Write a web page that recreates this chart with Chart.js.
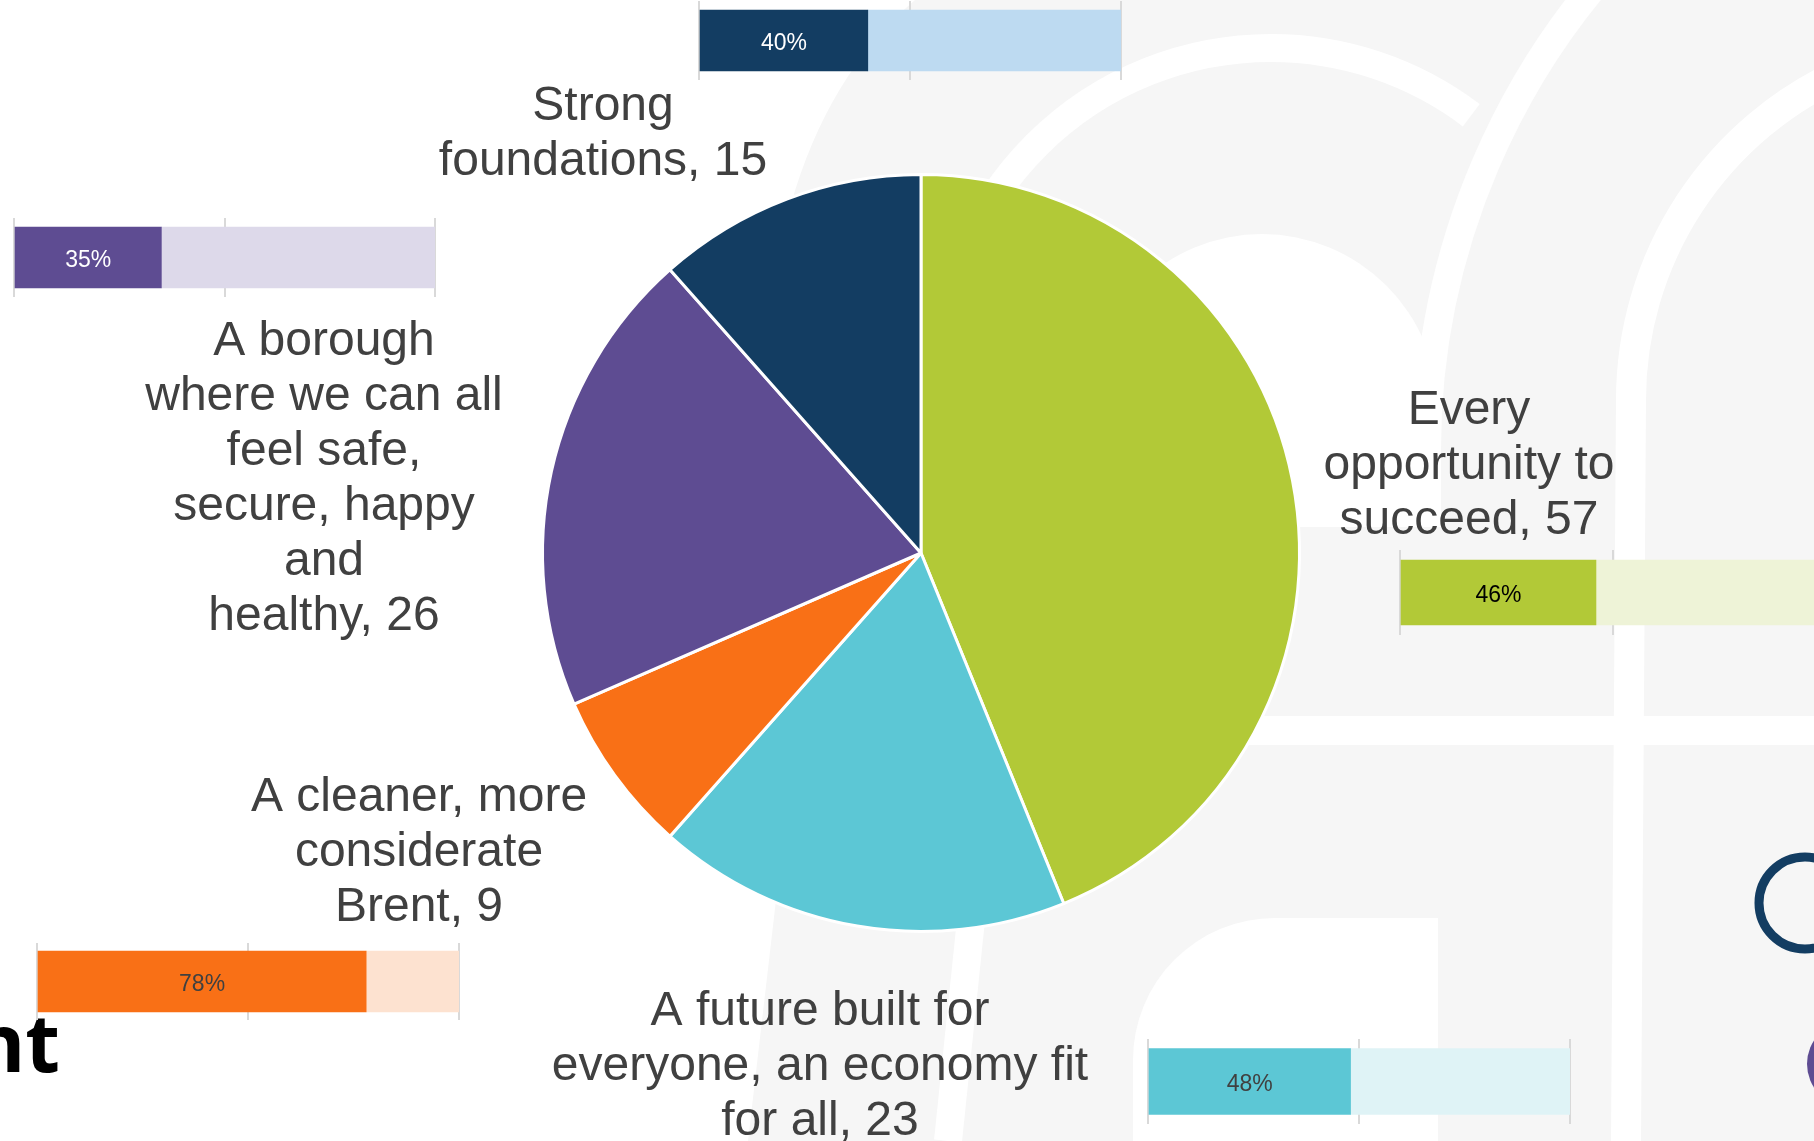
<!DOCTYPE html>
<html>
<head>
<meta charset="utf-8">
<title>Priorities</title>
<script src="https://cdn.jsdelivr.net/npm/chart.js"></script>
<style>
  html, body { margin: 0; padding: 0; background: #fff; overflow: hidden; }
  #slide { position: relative; width: 1814px; height: 1141px; overflow: hidden; background: #fff; }
  #slide canvas { position: absolute; }
</style>
</head>
<body>
<div id="slide">
  <canvas id="backdrop" width="1814" height="1141" style="left:0;top:0"></canvas>
  <canvas id="pie" width="1814" height="1141" style="left:0;top:0"></canvas>
</div>
<script>
// data, clockwise from 12 o'clock
var categories = [
  "Every opportunity to succeed",
  "A future built for everyone, an economy fit for all",
  "A cleaner, more considerate Brent",
  "A borough where we can all feel safe, secure, happy and\nhealthy",
  "Strong foundations"
];
var responses = [57, 23, 9, 26, 15];
var agreePct = [46, 48, 78, 35, 40];

// styles
var sliceColours = ["#B2C937", "#5CC7D5", "#F97016", "#5E4C92", "#133D62"];
var lightColours = ["#EEF3D7", "#DFF3F6", "#FDE2D0", "#DDD9EA", "#BDDAF1"];
var pctTextColours = ["#000000", "#404040", "#404040", "#ffffff", "#ffffff"];
var FONT = '"Liberation Sans", Arial, sans-serif';

// label boxes: centre x, first baseline, wrap width
var labelLayout = [
  { x: 1469, y: 424, w: 340 },
  { x: 820, y: 1025, w: 560 },
  { x: 419, y: 811, w: 370 },
  { x: 324, y: 355, w: 360 },
  { x: 603, y: 120, w: 380 }
];
// small bar boxes: left, width, top of gridlines, height, bar thickness
var barBoxes = [
  { x: 1400, w: 426, top: 550, h: 85, bar: 65 },
  { x: 1148, w: 422, top: 1039, h: 85, bar: 66 },
  { x: 37, w: 422, top: 943, h: 77, bar: 61 },
  { x: 14, w: 421, top: 218, h: 79, bar: 61 },
  { x: 699, w: 422, top: 1, h: 79, bar: 61 }
];

Chart.defaults.font.family = FONT;

// slide background pattern
function drawBackdrop() {
  var ctx = document.getElementById("backdrop").getContext("2d");
  ctx.fillStyle = "#F6F6F6";
  ctx.beginPath();
  ctx.moveTo(915, 0);
  ctx.quadraticCurveTo(740, 150, 768, 520);
  ctx.lineTo(776, 900);
  ctx.lineTo(748, 1141);
  ctx.lineTo(1814, 1141);
  ctx.lineTo(1814, 0);
  ctx.closePath();
  ctx.fill();

  ctx.strokeStyle = "#fff";
  ctx.fillStyle = "#fff";
  ctx.lineWidth = 28;
  // big arch
  ctx.beginPath();
  ctx.moveTo(948, 1141);
  ctx.lineTo(972, 910);
  ctx.lineTo(939, 380);
  ctx.arc(1271, 380, 332, Math.PI, 5.36);
  ctx.stroke();
  // arch hole
  ctx.beginPath();
  ctx.arc(1262, 410, 176, Math.PI, 2 * Math.PI);
  ctx.lineTo(1438, 527);
  ctx.lineTo(1086, 527);
  ctx.closePath();
  ctx.fill();
  // second curve
  ctx.beginPath();
  ctx.moveTo(1427, 527);
  ctx.lineTo(1427, 450);
  ctx.arc(2154, 450, 727, Math.PI, 3.95);
  ctx.stroke();
  // third curve
  ctx.lineWidth = 30;
  ctx.beginPath();
  ctx.moveTo(1626, 1141);
  ctx.lineTo(1631, 400);
  ctx.arc(1990, 400, 359, Math.PI, 4.3);
  ctx.stroke();
  // horizontal band
  ctx.fillRect(1100, 716, 714, 29);
  // lower hole
  ctx.beginPath();
  ctx.moveTo(1133, 1141);
  ctx.lineTo(1133, 1060);
  ctx.arcTo(1133, 918, 1275, 918, 142);
  ctx.lineTo(1438, 918);
  ctx.lineTo(1438, 1141);
  ctx.closePath();
  ctx.fill();

  // logo bits at the edges
  ctx.strokeStyle = "#133D62";
  ctx.lineWidth = 9;
  ctx.beginPath();
  ctx.arc(1805, 903, 46, 0, 2 * Math.PI);
  ctx.stroke();
  ctx.fillStyle = "#5E4C92";
  ctx.beginPath();
  ctx.arc(1850, 1064, 43, 0, 2 * Math.PI);
  ctx.fill();
  ctx.fillStyle = "#000";
  ctx.font = '700 80px "Open Sans", sans-serif';
  ctx.textAlign = "right";
  ctx.textBaseline = "alphabetic";
  ctx.fillText("Brent", 60, 1072);
}
drawBackdrop();

function wrapLines(ctx, text, maxW) {
  var out = [];
  text.split("\n").forEach(function (para) {
    var line = "";
    para.split(" ").forEach(function (word) {
      var test = line ? line + " " + word : word;
      if (line && ctx.measureText(test).width > maxW) {
        out.push(line);
        line = word;
      } else {
        line = test;
      }
    });
    out.push(line);
  });
  return out;
}

var sliceLabels = {
  id: "sliceLabels",
  afterDraw: function (chart) {
    var ctx = chart.ctx;
    ctx.save();
    ctx.font = "48px " + FONT;
    ctx.fillStyle = "#404040";
    ctx.textAlign = "center";
    ctx.textBaseline = "alphabetic";
    chart.data.labels.forEach(function (name, i) {
      var L = labelLayout[i];
      var lines = wrapLines(ctx, name + ", " + chart.data.datasets[0].data[i], L.w);
      lines.forEach(function (ln, k) {
        ctx.fillText(ln, L.x, L.y + k * 55);
      });
    });
    ctx.restore();
  }
};

new Chart(document.getElementById("pie"), {
  type: "pie",
  data: {
    labels: categories,
    datasets: [{
      data: responses,
      backgroundColor: sliceColours,
      borderColor: "#ffffff",
      borderWidth: 3
    }]
  },
  options: {
    responsive: false,
    animation: false,
    layout: { padding: { left: 541, top: 173, right: 513, bottom: 208 } },
    plugins: { legend: { display: false }, tooltip: { enabled: false } }
  },
  plugins: [sliceLabels]
});

// small agreement bars
function pctLabel(i) {
  return {
    id: "pctLabel" + i,
    afterDatasetsDraw: function (chart) {
      var bar = chart.getDatasetMeta(0).data[0];
      var ctx = chart.ctx;
      ctx.save();
      ctx.font = "23px " + FONT;
      ctx.fillStyle = pctTextColours[i];
      ctx.textAlign = "center";
      ctx.textBaseline = "middle";
      ctx.fillText(chart.data.datasets[0].data[0] + "%", (bar.base + bar.x) / 2, bar.y + 3);
      ctx.restore();
    }
  };
}

var slide = document.getElementById("slide");
barBoxes.forEach(function (b, i) {
  var cv = document.createElement("canvas");
  cv.width = b.w + 4;
  cv.height = b.h;
  cv.style.left = (b.x - 2) + "px";
  cv.style.top = b.top + "px";
  slide.appendChild(cv);
  new Chart(cv, {
    type: "bar",
    data: {
      labels: [categories[i]],
      datasets: [
        { data: [agreePct[i]], backgroundColor: sliceColours[i], barThickness: b.bar },
        { data: [100 - agreePct[i]], backgroundColor: lightColours[i], barThickness: b.bar }
      ]
    },
    options: {
      indexAxis: "y",
      responsive: false,
      animation: false,
      layout: { padding: { left: 2, right: 2, top: 0, bottom: 0 } },
      plugins: { legend: { display: false }, tooltip: { enabled: false } },
      scales: {
        x: {
          stacked: true, min: 0, max: 100,
          ticks: { stepSize: 50, display: false },
          grid: { color: "#D9D9D9", lineWidth: 2, drawTicks: false },
          border: { display: false }
        },
        y: { stacked: true, display: false }
      }
    },
    plugins: [pctLabel(i)]
  });
});
</script>
</body>
</html>
